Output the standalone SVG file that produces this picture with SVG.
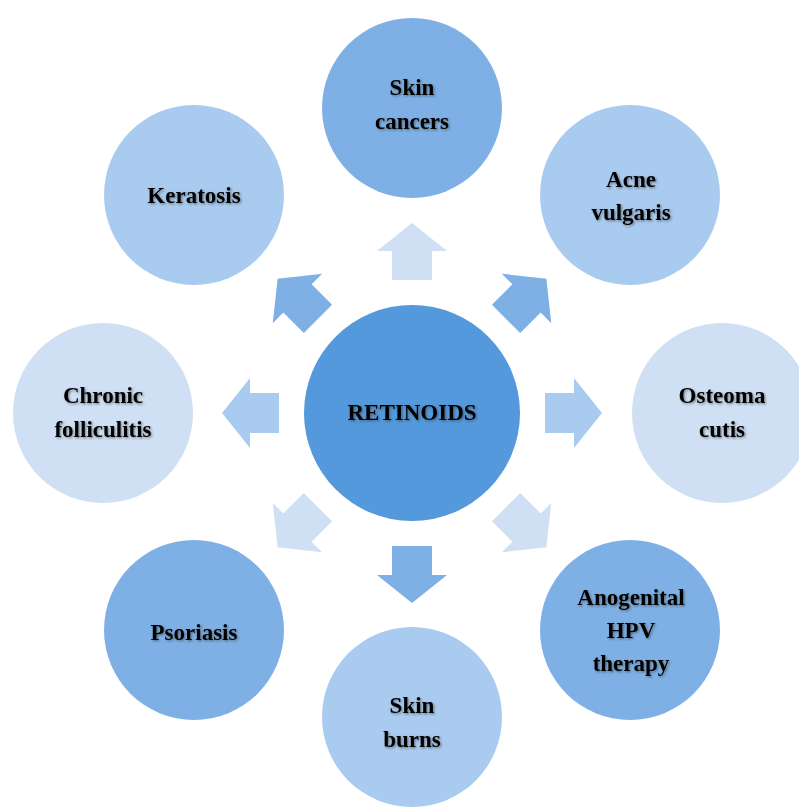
<svg xmlns="http://www.w3.org/2000/svg" width="799" height="807" viewBox="0 0 799 807">
<defs>
<style>
.c1{fill:#7EB0E5}
.c2{fill:#A9CBEF}
.c3{fill:#CFE0F4}
.c0{fill:#5499DB}
text{font-family:"Liberation Serif","Times New Roman",serif;font-weight:bold;font-size:23px;fill:#000;text-anchor:middle;filter:url(#sh)}
</style>
<filter id="sh" x="-20%" y="-30%" width="140%" height="160%">
<feDropShadow dx="1.2" dy="1.2" stdDeviation="0.9" flood-color="#333" flood-opacity="0.55"/>
</filter>
<path id="arr" d="M0,-190 L35,-162 L20,-162 L20,-133 L-20,-133 L-20,-162 L-35,-162 Z"/>
</defs>
<rect width="799" height="807" fill="#fff"/>
<g id="connectors" transform="translate(412,413)">
<use href="#arr" class="c3" transform="rotate(0)"/>
<use href="#arr" class="c1" transform="rotate(45)"/>
<use href="#arr" class="c2" transform="rotate(90)"/>
<use href="#arr" class="c3" transform="rotate(135)"/>
<use href="#arr" class="c1" transform="rotate(180)"/>
<use href="#arr" class="c3" transform="rotate(225)"/>
<use href="#arr" class="c2" transform="rotate(270)"/>
<use href="#arr" class="c1" transform="rotate(315)"/>
</g>
<g id="retinoids">
<circle class="c0" cx="412" cy="413" r="108"/>
<text x="412" y="420">RETINOIDS</text>
</g>
<g id="skin-cancers">
<circle class="c1" cx="412" cy="108" r="90"/>
<text x="412" y="95">Skin</text>
<text x="412" y="129">cancers</text>
</g>
<g id="acne-vulgaris">
<circle class="c2" cx="630" cy="195" r="90"/>
<text x="631" y="187">Acne</text>
<text x="631" y="220">vulgaris</text>
</g>
<g id="osteoma-cutis">
<circle class="c3" cx="722" cy="413" r="90"/>
<text x="722" y="403">Osteoma</text>
<text x="722" y="437">cutis</text>
</g>
<g id="anogenital-hpv">
<circle class="c1" cx="630" cy="630" r="90"/>
<text x="631" y="605">Anogenital</text>
<text x="631" y="638">HPV</text>
<text x="631" y="671">therapy</text>
</g>
<g id="skin-burns">
<circle class="c2" cx="412" cy="717" r="90"/>
<text x="412" y="713">Skin</text>
<text x="412" y="747">burns</text>
</g>
<g id="psoriasis">
<circle class="c1" cx="194" cy="630" r="90"/>
<text x="194" y="640">Psoriasis</text>
</g>
<g id="chronic-folliculitis">
<circle class="c3" cx="103" cy="413" r="90"/>
<text x="103" y="403">Chronic</text>
<text x="103" y="437">folliculitis</text>
</g>
<g id="keratosis">
<circle class="c2" cx="194" cy="195" r="90"/>
<text x="194" y="203">Keratosis</text>
</g>
</svg>
